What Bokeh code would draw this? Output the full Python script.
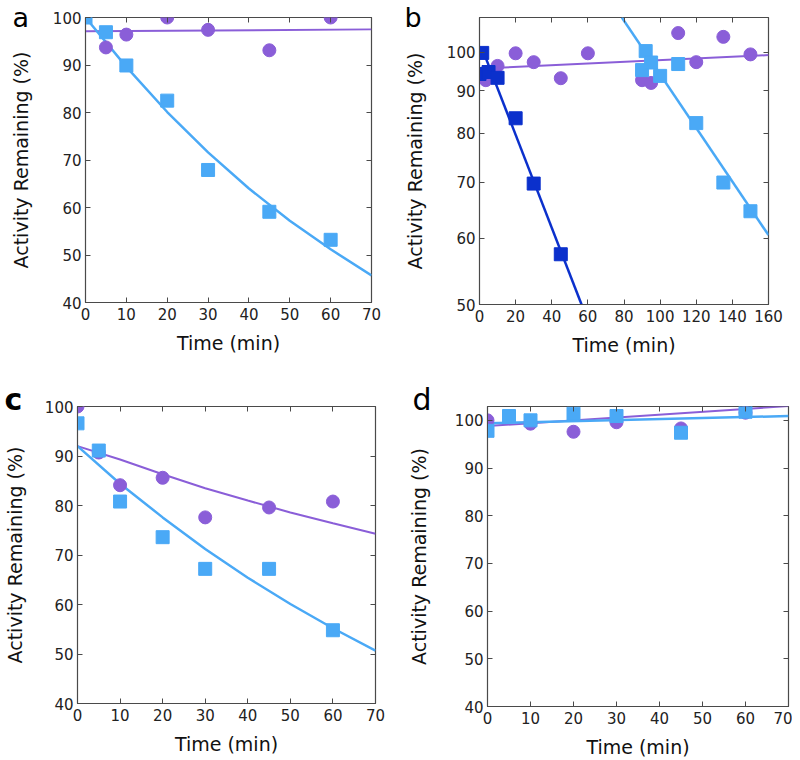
from bokeh.plotting import figure
from bokeh.models import LinearAxis, LogAxis, FixedTicker, Range1d
from bokeh.layouts import column, row
from bokeh.embed import file_html
from bokeh.resources import INLINE

# ---------------- data ----------------
# panel a
a_sq_t = [0, 5, 10, 20, 30, 45, 60]
a_sq_v = [100, 96.9, 89.9, 82.5, 67.9, 59.1, 53.2]
a_ci_t = [5, 10, 20, 30, 45, 60]
a_ci_v = [93.7, 96.4, 100, 97.4, 93.1, 100]
a_fitb_t = [0, 10, 20, 30, 40, 50, 60, 70]
a_fitb_v = [100, 89.6, 80.1, 71.6, 64.0, 57.2, 51.2, 45.7]
a_fitp_t = [0, 70]
a_fitp_v = [97.1, 97.5]

# panel b
b_dsq_t = [0, 1.5, 5, 10, 20, 30, 45]
b_dsq_v = [94.2, 99.8, 94.7, 93.2, 83.4, 69.7, 57.4]
b_lsq_t = [90, 92, 95, 100, 110, 120, 135, 150]
b_lsq_v = [95.2, 100.3, 97.2, 93.7, 96.8, 82.3, 69.9, 64.6]
b_ci_t = [0, 3.5, 10, 20, 30, 45, 60, 90, 95, 110, 120, 135, 150]
b_ci_v = [93.8, 92.6, 96.3, 99.7, 97.3, 93.1, 99.7, 92.6, 91.9, 105.4, 97.3, 104.3, 99.4]
b_fitd_t = [2, 56.5]
b_fitd_v = [100.3, 50]
b_fitl_t = [78.8, 160]
b_fitl_v = [110, 60.5]
b_fitp_t = [0, 160]
b_fitp_v = [95.6, 99.2]

# panel c
c_t = [0, 5, 10, 20, 30, 45, 60]
c_ci_v = [100, 90.7, 84.1, 85.6, 77.6, 79.6, 80.8]
c_sq_v = [96.6, 91.1, 80.8, 73.6, 67.2, 67.2, 54.8]
c_fit_t = [0, 10, 20, 30, 40, 50, 60, 70]
c_fitp_v = [92, 89.3, 86.3, 83.5, 81.0, 78.6, 76.4, 74.3]
c_fitb_v = [92, 84.4, 77.6, 71.2, 65.4, 60.1, 55.2, 50.7]

# panel d
d_ci_t = [0, 10, 20, 30, 45, 60]
d_ci_v = [100, 99.3, 97.6, 99.6, 98.3, 101.6]
d_sq_t = [0, 5, 10, 20, 30, 45, 60]
d_sq_v = [97.8, 100.9, 100, 101.4, 100.9, 97.4, 101.8]
d_fit_t = [0, 70]
d_fitp_v = [98.8, 103.0]
d_fitb_v = [99.4, 100.9]

x_ticks_70 = [0, 10, 20, 30, 40, 50, 60, 70]
x_ticks_160 = [0, 20, 40, 60, 80, 100, 120, 140, 160]
y_ticks_lin = [40, 50, 60, 70, 80, 90, 100]
y_ticks_log = [50, 60, 70, 80, 90, 100]

XLABEL = "Time (min)"
YLABEL = "Activity Remaining (%)"
LETTERS = ["a", "b", "c", "d"]

# ---------------- style ----------------
PURPLE = "#8a5ed8"
LBLUE = "#4aa9f6"
DBLUE = "#0b30cc"
AXC = "#4a4a4a"
FONT = "DejaVu Sans"


def make_fig(fw, fh, xr, yr, borders, log=False):
    l, r, t, b = borders
    p = figure(frame_width=fw, frame_height=fh, x_range=Range1d(*xr), y_range=Range1d(*yr),
               y_axis_type="log" if log else "linear",
               output_backend="svg", toolbar_location=None,
               min_border_left=l, min_border_right=r, min_border_top=t, min_border_bottom=b)
    p.grid.visible = False
    p.outline_line_color = AXC
    p.outline_line_width = 1.2
    p.background_fill_color = "white"
    p.border_fill_color = "white"
    return p


def style_axes(p, xticks, yticks, log=False, ylab_stand=19, xlab_stand=9):
    p.xaxis.ticker = FixedTicker(ticks=xticks)
    p.yaxis.ticker = FixedTicker(ticks=yticks)
    for ax in (p.xaxis[0], p.yaxis[0]):
        ax.axis_line_color = AXC
        ax.major_tick_line_color = AXC
        ax.major_tick_in = 5
        ax.major_tick_out = 0
        ax.minor_tick_line_color = None
        ax.major_label_text_font = FONT
        ax.major_label_text_font_size = "15px"
        ax.major_label_text_color = "#222222"
        ax.axis_label_text_font = FONT
        ax.axis_label_text_font_size = "19px"
        ax.axis_label_text_font_style = "normal"
        ax.axis_label_text_color = "#111111"
    p.yaxis.major_label_standoff = 4
    p.xaxis.major_label_standoff = 5
    p.xaxis.axis_label = XLABEL
    p.yaxis.axis_label = YLABEL
    p.yaxis.axis_label_standoff = ylab_stand
    p.xaxis.axis_label_standoff = xlab_stand
    if log:
        p.yaxis.major_label_overrides = {v: str(v) for v in yticks}
    top = LinearAxis(ticker=FixedTicker(ticks=xticks))
    right = (LogAxis if log else LinearAxis)(ticker=FixedTicker(ticks=yticks))
    for ax, ticks in ((top, xticks), (right, yticks)):
        ax.axis_line_color = None
        ax.major_tick_line_color = AXC
        ax.major_tick_in = 5
        ax.major_tick_out = 0
        ax.minor_tick_line_color = None
        ax.major_label_overrides = {v: "" for v in ticks}
        ax.major_label_text_font_size = "1px"
        ax.major_label_standoff = 0
    p.add_layout(top, "above")
    p.add_layout(right, "right")


def letter(p, txt, dx, standoff, size="30px", bold=False):
    # panel letter as the figure title, pulled down next to the frame
    p.title.text = txt
    p.title.align = "left"
    p.title.offset = dx
    p.title.standoff = standoff
    p.title.vertical_align = "bottom"
    p.title.text_font = FONT
    p.title.text_font_size = size
    p.title.text_font_style = "bold" if bold else "normal"
    p.title.text_color = "black"


MS = 13

# panel a
pa = make_fig(286, 285, (0, 70), (40, 100), (85, 29, 17, 78))
style_axes(pa, x_ticks_70, y_ticks_lin, ylab_stand=18)
pa.line(a_fitp_t, a_fitp_v, line_color=PURPLE, line_width=2)
pa.line(a_fitb_t, a_fitb_v, line_color=LBLUE, line_width=2.5)
pa.scatter(a_ci_t, a_ci_v, marker="circle", size=MS, color=PURPLE)
pa.scatter(a_sq_t, a_sq_v, marker="square", size=MS, color=LBLUE)
letter(pa, LETTERS[0], -73, -30, size="27px")

# panel b
pb = make_fig(289, 287, (0, 160), (50, 110), (78, 25, 13, 80), log=True)
style_axes(pb, x_ticks_160, y_ticks_log, log=True, ylab_stand=18)
pb.line(b_fitp_t, b_fitp_v, line_color=PURPLE, line_width=2)
pb.line(b_fitl_t, b_fitl_v, line_color=LBLUE, line_width=2.5)
pb.line(b_fitd_t, b_fitd_v, line_color=DBLUE, line_width=2.5)
pb.scatter(b_ci_t, b_ci_v, marker="circle", size=MS, color=PURPLE)
pb.scatter(b_lsq_t, b_lsq_v, marker="square", size=MS, color=LBLUE)
pb.scatter(b_dsq_t, b_dsq_v, marker="square", size=MS, color=DBLUE)
letter(pb, LETTERS[1], -75, -30, size="27px")

# panel c
pc = make_fig(298, 297, (0, 70), (40, 100), (77, 25, 26, 49))
style_axes(pc, x_ticks_70, y_ticks_lin, ylab_stand=16)
pc.line(c_fit_t, c_fitp_v, line_color=PURPLE, line_width=2)
pc.line(c_fit_t, c_fitb_v, line_color=LBLUE, line_width=2.5)
pc.scatter(c_t, c_ci_v, marker="circle", size=MS, color=PURPLE)
pc.scatter(c_t, c_sq_v, marker="square", size=MS, color=LBLUE)
letter(pc, LETTERS[2], -73, -20, bold=True)

# panel d
pd_ = make_fig(301, 300, (0, 70), (40, 102.9), (87, 4, 26, 46))
style_axes(pd_, x_ticks_70, y_ticks_lin, ylab_stand=22)
pd_.line(d_fit_t, d_fitp_v, line_color=PURPLE, line_width=2)
pd_.line(d_fit_t, d_fitb_v, line_color=LBLUE, line_width=2.5)
pd_.scatter(d_ci_t, d_ci_v, marker="circle", size=MS, color=PURPLE)
pd_.scatter(d_sq_t, d_sq_v, marker="square", size=MS, color=LBLUE)
letter(pd_, LETTERS[3], -75, -20)

layout = column(row(pa, pb), row(pc, pd_))
open("out.html", "w").write(file_html(layout, INLINE))
